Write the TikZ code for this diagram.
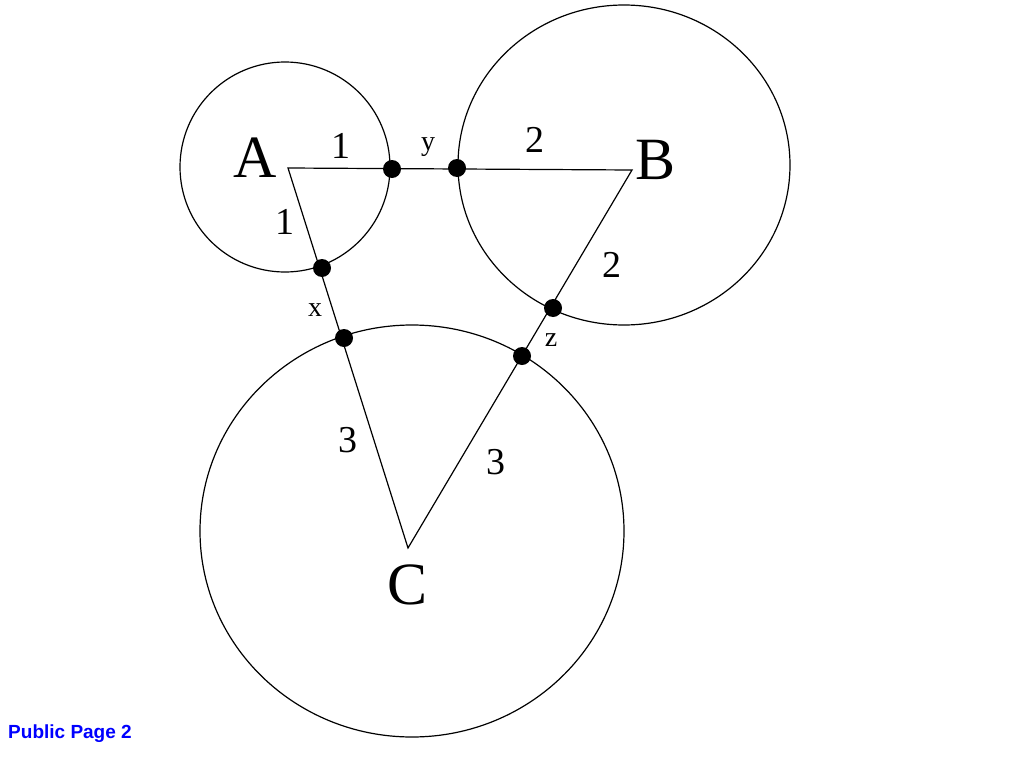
\documentclass[tikz,border=0pt]{standalone}
\usepackage{fontspec}
\setmainfont{Liberation Serif}
\setsansfont{Liberation Sans}
\begin{document}
\begin{tikzpicture}[x=1pt,y=-1pt,
  dot/.style={circle,fill=black,inner sep=0pt,minimum size=18pt},
  big/.style={font=\fontsize{60}{60}\selectfont},
  num/.style={font=\fontsize{38}{38}\selectfont},
  sm/.style={font=\fontsize{28}{28}\selectfont},
  ring/.style={draw,line width=1.2pt}]
\useasboundingbox (0,0) rectangle (1014,760);
\draw[ring] (285,167) circle (105);
\draw[ring] (624,165) ellipse (166 and 160);
\draw[ring] (412,531) ellipse (212 and 206);
\coordinate (a) at (288,168);
\coordinate (b) at (632,170);
\coordinate (c) at (408,548);
\draw[line width=1.2pt] (a) -- (b) -- (c) -- cycle;
\node[dot] (d1) at (392,169) {};
\node[dot] (d2) at (457,168) {};
\node[dot] (d3) at (322,268) {};
\node[dot] (d4) at (344,338) {};
\node[dot] (d5) at (553,308) {};
\node[dot] (d6) at (522,356) {};
\node[big] (A) at (255,158) {A};
\node[big] (B) at (656,160) {B};
\node[big] (C) at (408,585) {C};
\node[num] (n1) at (341,146) {1};
\node[num] (n2) at (285,222) {1};
\node[num] (n3) at (535,140) {2};
\node[num] (n4) at (612,265) {2};
\node[num] (n5) at (348,440) {3};
\node[num] (n6) at (496,462) {3};
\node[sm] (y) at (428,147) {y};
\node[sm] (x) at (315,310) {x};
\node[sm] (z) at (551,340) {z};
\node[font=\sffamily\bfseries\fontsize{19}{19}\selectfont,text=blue] (p) at (70,734) {Public Page 2};
\end{tikzpicture}
\end{document}
